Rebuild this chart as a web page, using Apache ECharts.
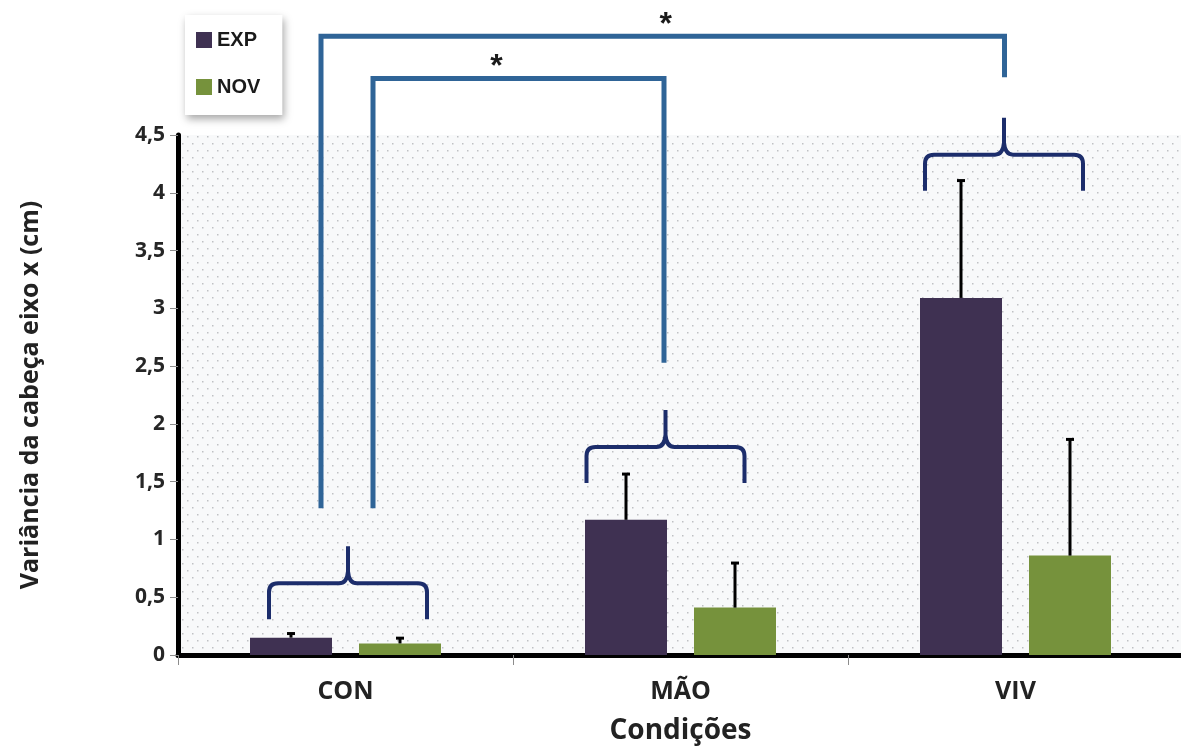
<!DOCTYPE html>
<html>
<head>
<meta charset="utf-8">
<script src="https://cdn.jsdelivr.net/npm/echarts@6/dist/echarts.min.js"></script>
<style>
  html, body { margin: 0; padding: 0; background: #ffffff; }
  #chart { width: 1181px; height: 747px; }
</style>
</head>
<body>
<div id="chart"></div>
<script>
// Conditions and measured head variance (x axis, cm)
const categories = ['CON', 'MÃO', 'VIV'];
const seriesNames = ['EXP', 'NOV'];
const expValues = [0.15, 1.17, 3.09];
const expErrorTop = [0.19, 1.57, 4.11];
const novValues = [0.10, 0.41, 0.86];
const novErrorTop = [0.15, 0.80, 1.87];
const yMin = 0;
const yMax = 4.5;
const yStep = 0.5;

// Significance annotations, anchored to category index + y value
const braceAnchors = [
  { cat: 0, y: 0.62, dx: 2.5 },
  { cat: 1, y: 1.80, dx: -15 },
  { cat: 2, y: 4.33, dx: -11.5 }
];
const bracketDefs = [
  { from: 0, fromDx: -24.5, fromY: 1.27, to: 2, toDx: -11, toY: 5.0, topY: 5.355, star: 3 },
  { from: 0, fromDx: 27.5, fromY: 1.27, to: 1, toDx: -16.5, toY: 2.53, topY: 4.99, star: -22 }
];

const COLORS = { exp: '#3f3152', nov: '#76923c', bracket: '#2f6497', brace: '#1c2d6b' };
const BAR_WIDTH = 82;
const BAR_GAP = 27;
const FONT = 'Open Sans';

// dotted plot-area fill
function dotPattern() {
  const c = document.createElement('canvas');
  c.width = 10; c.height = 14;
  const g = c.getContext('2d');
  g.fillStyle = '#f8f9fa';
  g.fillRect(0, 0, 10, 14);
  g.fillStyle = '#bfc1c4';
  g.fillRect(2, 3, 1.5, 1.5);
  g.fillRect(7, 10, 1.5, 1.5);
  return c;
}

function errorSeries(name, values, tops, sign) {
  return {
    name: name,
    type: 'custom',
    z: 5,
    silent: true,
    data: categories.map((c, i) => [i, tops[i], values[i]]),
    encode: { x: 0, y: 1 },
    renderItem: function (params, api) {
      const top = api.coord([api.value(0), api.value(1)]);
      const base = api.coord([api.value(0), api.value(2)]);
      const x = top[0] + sign * (BAR_WIDTH + BAR_GAP) / 2;
      return {
        type: 'group',
        children: [
          { type: 'line', shape: { x1: x, y1: base[1], x2: x, y2: top[1] },
            style: { stroke: '#000', lineWidth: 3 } },
          { type: 'rect', shape: { x: x - 4, y: top[1] - 1, width: 8, height: 3 },
            style: { fill: '#000' } }
        ]
      };
    }
  };
}

function bracePath(cx, hy) {
  const w = 79, d = 36, p = 37, r = 9;
  return [
    'M', cx - w, hy + d,
    'L', cx - w, hy + r,
    'Q', cx - w, hy, cx - w + r, hy,
    'L', cx - 9, hy,
    'Q', cx - 1, hy, cx, hy - 12,
    'L', cx, hy - p,
    'M', cx, hy - 12,
    'Q', cx + 1, hy, cx + 9, hy,
    'L', cx + w - r, hy,
    'Q', cx + w, hy, cx + w, hy + r,
    'L', cx + w, hy + d
  ].join(' ');
}

const braceSeries = {
  name: 'chaves',
  type: 'custom',
  z: 8,
  silent: true,
  clip: false,
  data: braceAnchors.map(b => [b.cat, b.y]),
  encode: { x: 0, y: 1 },
  renderItem: function (params, api) {
    const p = api.coord([api.value(0), api.value(1)]);
    const dx = braceAnchors[params.dataIndex].dx;
    return {
      type: 'path',
      shape: { pathData: bracePath(p[0] + dx, p[1]) },
      style: { fill: 'none', stroke: COLORS.brace, lineWidth: 4, lineJoin: 'round', lineCap: 'butt' }
    };
  }
};

const bracketSeries = {
  name: 'significancia',
  type: 'custom',
  z: 9,
  silent: true,
  clip: false,
  data: bracketDefs.map(b => [b.from, b.fromY, b.to, b.toY, b.topY]),
  encode: { x: 0, y: 1 },
  renderItem: function (params, api) {
    const def = bracketDefs[params.dataIndex];
    const a = api.coord([api.value(0), api.value(1)]);
    const t = api.coord([api.value(2), api.value(3)]);
    const topY = api.coord([api.value(0), api.value(4)])[1];
    const x1 = a[0] + def.fromDx, x2 = t[0] + def.toDx;
    return {
      type: 'group',
      children: [
        { type: 'polyline',
          shape: { points: [[x1, a[1]], [x1, topY], [x2, topY], [x2, t[1]]] },
          style: { fill: 'none', stroke: COLORS.bracket, lineWidth: 5, lineJoin: 'miter' } },
        { type: 'text',
          x: (x1 + x2) / 2 + def.star, y: topY - 27,
          style: { text: '*', fill: '#1a1a1a', font: 'bold 32px "Liberation Sans"',
                   textAlign: 'center', textVerticalAlign: 'top' } }
      ]
    };
  }
};

const chart = echarts.init(document.getElementById('chart'), null, { renderer: 'canvas' });

const option = {
  animation: false,
  backgroundColor: '#ffffff',
  textStyle: { fontFamily: FONT },
  grid: {
    left: 178, right: -2, top: 135, bottom: 92,
    outerBoundsMode: 'none',
    containLabel: false,
    show: true,
    borderWidth: 0,
    backgroundColor: { image: dotPattern(), repeat: 'repeat' }
  },
  legend: {
    data: seriesNames,
    orient: 'vertical',
    left: 185, top: 15,
    icon: 'rect',
    itemWidth: 16, itemHeight: 16,
    itemGap: 27,
    padding: [15, 22, 18, 11],
    backgroundColor: '#ffffff',
    shadowBlur: 8,
    shadowColor: 'rgba(0,0,0,0.35)',
    shadowOffsetX: 2,
    shadowOffsetY: 4,
    textStyle: { fontFamily: 'Liberation Sans', fontWeight: 'bold', fontSize: 20, color: '#1a1a1a' }
  },
  xAxis: {
    type: 'category',
    data: categories,
    name: 'Condições',
    nameLocation: 'middle',
    nameGap: 62,
    nameTextStyle: { fontFamily: FONT, fontWeight: 'bold', fontSize: 28, color: '#222' },
    axisLine: { lineStyle: { color: '#000', width: 5 } },
    axisTick: { show: true, length: 10, interval: 0, lineStyle: { color: '#8c8c8c', width: 1 } },
    axisLabel: { fontFamily: FONT, fontWeight: 'bold', fontSize: 25, color: '#222', margin: 24 }
  },
  yAxis: {
    type: 'value',
    min: yMin, max: yMax, interval: yStep,
    name: 'Variância da cabeça eixo x (cm)',
    nameLocation: 'middle',
    nameGap: 135,
    nameRotate: 90,
    nameTextStyle: { fontFamily: FONT, fontWeight: 'bold', fontSize: 25, color: '#222' },
    axisLine: { show: true, lineStyle: { color: '#000', width: 5 } },
    axisTick: { show: true, length: 8, lineStyle: { color: '#8c8c8c', width: 1 } },
    splitLine: { show: false },
    axisLabel: {
      fontFamily: FONT, fontWeight: 'bold', fontSize: 21, color: '#262626', margin: 13,
      formatter: v => String(v).replace('.', ',')
    }
  },
  series: [
    { name: 'EXP', type: 'bar', data: expValues, barWidth: BAR_WIDTH, barGap: (BAR_GAP / BAR_WIDTH * 100) + '%',
      itemStyle: { color: COLORS.exp }, z: 3 },
    { name: 'NOV', type: 'bar', data: novValues, barWidth: BAR_WIDTH,
      itemStyle: { color: COLORS.nov }, z: 3 },
    errorSeries('erroEXP', expValues, expErrorTop, -1),
    errorSeries('erroNOV', novValues, novErrorTop, 1),
    braceSeries,
    bracketSeries
  ]
};

chart.setOption(option);
</script>
</body>
</html>
